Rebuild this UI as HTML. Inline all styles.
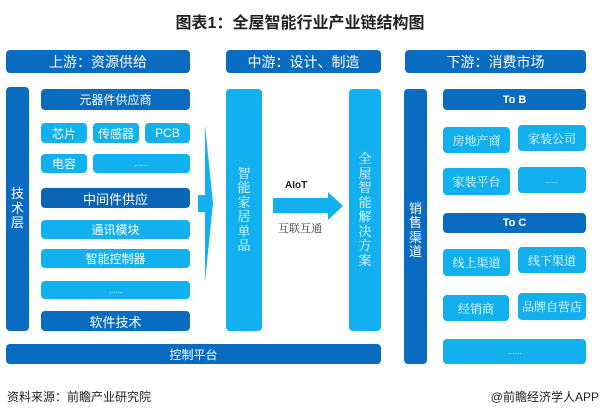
<!DOCTYPE html>
<html><head><meta charset="utf-8"><style>
body{margin:0;width:600px;height:418px;background:#fff;position:relative;overflow:hidden;font-family:"Liberation Sans","Noto Sans CJK SC",sans-serif;}
.b{position:absolute;border-radius:4px;color:#fff;display:flex;align-items:center;justify-content:center;font-size:12px;}
.d{background:#0a6cc0;}
.l{background:#12b0ee;}
.h{font-size:14px;}
.v{flex-direction:column;line-height:14.5px;font-size:13px;}
.sf{font-family:"Liberation Serif","Noto Serif CJK SC",serif;}
.t{position:absolute;white-space:nowrap;}
</style></head><body>
<div class="t" style="left:0;width:600px;top:9px;text-align:center;font-size:16px;font-weight:bold;color:#222;">图表1：全屋智能行业产业链结构图</div>

<div class="b d h" style="left:6px;top:50px;width:184px;height:23px;">上游：资源供给</div>
<div class="b d h" style="left:226px;top:50px;width:155px;height:23px;">中游：设计、制造</div>
<div class="b d h" style="left:405px;top:50px;width:181px;height:23px;">下游：消费市场</div>

<div class="b d v" style="left:6px;top:87px;width:23px;height:244px;"><span>技</span><span>术</span><span>层</span></div>

<div class="b d" style="left:41px;top:89px;width:149px;height:21px;">元器件供应商</div>
<div class="b l" style="left:41px;top:123px;width:46px;height:20px;">芯片</div>
<div class="b l" style="left:93px;top:123px;width:46px;height:20px;">传感器</div>
<div class="b l" style="left:145px;top:123px;width:45px;height:20px;">PCB</div>
<div class="b l" style="left:41px;top:154px;width:46px;height:19px;">电容</div>
<div class="b l" style="left:93px;top:154px;width:97px;height:19px;font-size:8px;">......</div>
<div class="b d" style="left:41px;top:188px;width:149px;height:20px;font-size:13px;background:#0b64b4;">中间件供应</div>
<div class="b l" style="left:41px;top:220px;width:149px;height:19px;">通讯模块</div>
<div class="b l" style="left:41px;top:249px;width:149px;height:19px;">智能控制器</div>
<div class="b l" style="left:41px;top:281px;width:149px;height:18px;font-size:8px;">......</div>
<div class="b d" style="left:41px;top:311px;width:149px;height:20px;font-size:13px;">软件技术</div>

<div class="b d" style="left:6px;top:344px;width:375px;height:20px;">控制平台</div>

<svg style="position:absolute;left:0;top:0" width="600" height="418">
<polygon points="205,125 213,203 205,282" fill="#12b0ee"/>
<rect x="198" y="195" width="8" height="17" fill="#12b0ee"/>
<polygon points="273,198 328,198 328,192 343,206 328,220 328,213 273,213" fill="#12b0ee"/>
</svg>

<div class="b l v sf" style="left:226px;top:89px;width:36px;height:242px;"><span>智</span><span>能</span><span>家</span><span>居</span><span>单</span><span>品</span></div>
<div class="t" style="left:285px;top:180px;font-size:10px;font-weight:bold;color:#222;">AIoT</div>
<div class="t sf" style="left:278px;top:220px;font-size:11px;color:#333;">互联互通</div>
<div class="b l v sf" style="left:349px;top:89px;width:32px;height:242px;"><span>全</span><span>屋</span><span>智</span><span>能</span><span>解</span><span>决</span><span>方</span><span>案</span></div>

<div class="b d v" style="left:404px;top:89px;width:23px;height:275px;padding-top:8px;box-sizing:border-box;"><span>销</span><span>售</span><span>渠</span><span>道</span></div>

<div class="b d" style="left:443px;top:89px;width:143px;height:21px;font-size:11px;font-weight:bold;">To B</div>
<div class="b l sf" style="left:443px;top:127px;width:67px;height:26px;">房地产商</div>
<div class="b l sf" style="left:518px;top:125px;width:68px;height:26px;">家装公司</div>
<div class="b l sf" style="left:443px;top:168px;width:67px;height:27px;">家装平台</div>
<div class="b l" style="left:518px;top:167px;width:68px;height:26px;font-size:8px;">......</div>
<div class="b d" style="left:443px;top:213px;width:143px;height:20px;font-size:11px;font-weight:bold;">To C</div>
<div class="b l sf" style="left:443px;top:249px;width:67px;height:27px;">线上渠道</div>
<div class="b l sf" style="left:518px;top:247px;width:68px;height:26px;">线下渠道</div>
<div class="b l sf" style="left:443px;top:295px;width:66px;height:26px;">经销商</div>
<div class="b l sf" style="left:518px;top:293px;width:68px;height:27px;">品牌自营店</div>
<div class="b l" style="left:443px;top:339px;width:143px;height:25px;font-size:8px;">......</div>

<div class="t" style="left:7px;top:388px;font-size:12px;color:#222;">资料来源：前瞻产业研究院</div>
<div class="t" style="right:1px;top:388px;font-size:12px;color:#222;">@前瞻经济学人APP</div>
</body></html>
